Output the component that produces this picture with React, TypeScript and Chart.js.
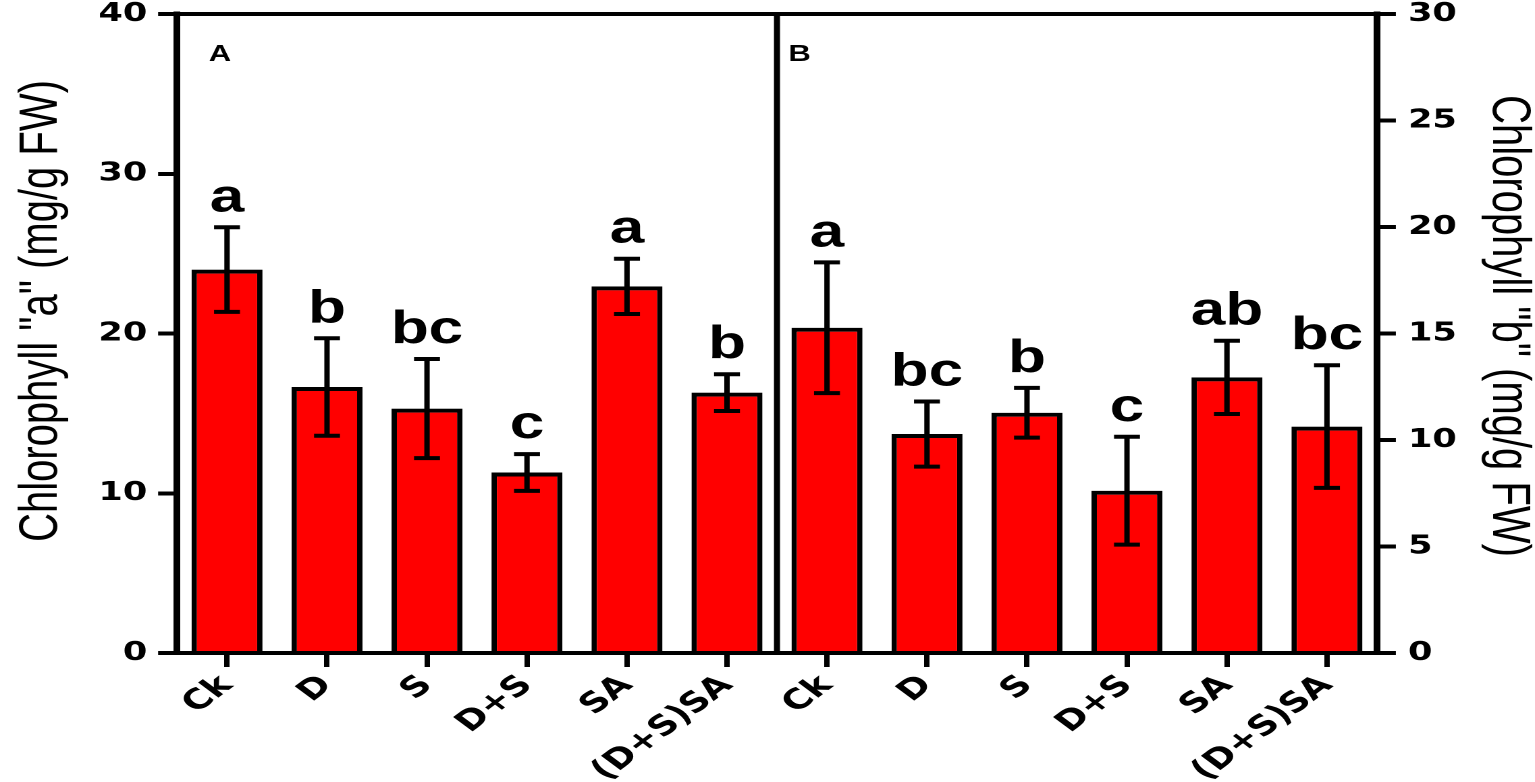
import React, { useEffect, useRef } from "react";
import { Chart, registerables } from "chart.js";

Chart.register(...registerables);

// the reference is stretched horizontally, so the chart is drawn narrow and scaled in x
const STRETCH = 1.35;
const WIDTH = 1535 / STRETCH;

const groups = ["Ck", "D", "S", "D+S", "SA", "(D+S)SA"];
const labels = [...groups, ...groups];

// panel A: chlorophyll a (left axis)
const chlA = [24.0, 16.65, 15.3, 11.3, 22.95, 16.3];
const chlAErr = [2.65, 3.05, 3.1, 1.15, 1.73, 1.15];
const lettersA = ["a", "b", "bc", "c", "a", "b"];

// panel B: chlorophyll b (right axis)
const chlB = [15.27, 10.28, 11.28, 7.62, 12.94, 10.63];
const chlBErr = [3.07, 1.53, 1.17, 2.53, 1.72, 2.88];
const lettersB = ["a", "bc", "b", "c", "ab", "bc"];

const FONT = "'Liberation Sans', Arial, sans-serif";
const TICK_FONT = "'DejaVu Sans', Verdana, sans-serif";

const annotate = {
    id: "annotate",
    afterDatasetsDraw(chart: any) {
        const { ctx, chartArea: a, scales } = chart;
        const x = scales.x;
        ctx.save();
        ctx.strokeStyle = "#000";
        ctx.fillStyle = "#000";

        // top frame line
        ctx.lineWidth = 4;
        ctx.beginPath();
        ctx.moveTo(a.left, a.top);
        ctx.lineTo(a.right, a.top);
        ctx.stroke();

        // divider between the two panels
        const mid = (x.getPixelForValue(5) + x.getPixelForValue(6)) / 2;
        ctx.lineWidth = 4.5;
        ctx.beginPath();
        ctx.moveTo(mid, a.top);
        ctx.lineTo(mid, a.bottom);
        ctx.stroke();

        const draw = (vals: number[], errs: number[], letters: string[], offset: number, yScale: any) => {
            vals.forEach((v, i) => {
                const cx = x.getPixelForValue(i + offset);
                const top = yScale.getPixelForValue(v + errs[i]);
                const bot = yScale.getPixelForValue(v - errs[i]);
                ctx.lineWidth = 4;
                ctx.beginPath();
                ctx.moveTo(cx, top);
                ctx.lineTo(cx, bot);
                ctx.moveTo(cx - 9.6, top);
                ctx.lineTo(cx + 9.6, top);
                ctx.moveTo(cx - 9.6, bot);
                ctx.lineTo(cx + 9.6, bot);
                ctx.stroke();
                ctx.font = `bold 46px ${FONT}`;
                ctx.textAlign = "center";
                ctx.textBaseline = "alphabetic";
                ctx.fillText(letters[i], cx, top - 16);
            });
        };
        draw(chlA, chlAErr, lettersA, 0, scales.y);
        draw(chlB, chlBErr, lettersB, 6, scales.y1);

        // panel labels
        ctx.font = `bold 23px ${FONT}`;
        ctx.textAlign = "left";
        ctx.fillText("A", a.left + 23.5, 61);
        ctx.fillText("B", mid + 8.5, 61);
        ctx.restore();
    },
    afterDraw(chart: any) {
        const { ctx } = chart;
        ctx.save();
        ctx.fillStyle = "#000";
        ctx.font = `40px ${FONT}`;
        ctx.textAlign = "center";
        ctx.textBaseline = "alphabetic";
        // left title, reads upward
        ctx.save();
        ctx.translate(42, 311);
        ctx.rotate(-Math.PI / 2);
        ctx.fillText('Chlorophyll "a" (mg/g FW)', 0, 0);
        ctx.restore();
        // right title, reads downward
        ctx.save();
        ctx.translate(1106, 326);
        ctx.rotate(Math.PI / 2);
        ctx.fillText('Chlorophyll "b" (mg/g FW)', 0, 0);
        ctx.restore();
        ctx.restore();
    },
};

export default function App() {
    const canvasRef = useRef<HTMLCanvasElement | null>(null);
    const chartRef = useRef<Chart | null>(null);

    useEffect(() => {
        document.body.style.margin = "0";
        const canvas = canvasRef.current;
        if (!canvas) return;
        if (chartRef.current) {
            chartRef.current.destroy();
            chartRef.current = null;
        }

        const tickFont = { family: TICK_FONT, size: 26, weight: "bold" as const };
        const axisGrid = {
            drawOnChartArea: false,
            tickLength: 14,
            color: "#000",
            lineWidth: 4,
        };
        // y axes: fixed width, no extra room for the end labels
        const fitY = (w: number) => (s: any) => {
            s.width = w;
            s.paddingTop = 0;
            s.paddingBottom = 0;
        };

        chartRef.current = new Chart(canvas, {
            type: "bar",
            data: {
                labels,
                datasets: [
                    {
                        label: 'Chlorophyll "a"',
                        data: [...chlA, ...groups.map(() => null)],
                        yAxisID: "y",
                        backgroundColor: "#ff0000",
                        borderColor: "#000",
                        borderWidth: 4,
                    },
                    {
                        label: 'Chlorophyll "b"',
                        data: [...groups.map(() => null), ...chlB],
                        yAxisID: "y1",
                        backgroundColor: "#ff0000",
                        borderColor: "#000",
                        borderWidth: 4,
                    },
                ] as any,
            },
            options: {
                animation: false,
                responsive: true,
                maintainAspectRatio: false,
                devicePixelRatio: 2,
                layout: { padding: { top: 14, left: 0, right: 0, bottom: 0 } },
                datasets: { bar: { grouped: false, barPercentage: 0.71, categoryPercentage: 1 } },
                plugins: {
                    legend: { display: false },
                    tooltip: { enabled: false },
                },
                scales: {
                    x: {
                        grid: { ...axisGrid, offset: false },
                        border: { color: "#000", width: 4 },
                        ticks: {
                            font: { ...tickFont, size: 28 },
                            color: "#000",
                            minRotation: 45,
                            maxRotation: 45,
                            autoSkip: false,
                            padding: 2,
                        },
                        afterFit: (s: any) => {
                            s.height = 129;
                        },
                    },
                    y: {
                        position: "left",
                        min: 0,
                        max: 40,
                        grid: axisGrid,
                        border: { color: "#000", width: 5 },
                        ticks: { stepSize: 10, font: tickFont, color: "#000", padding: 8 },
                        afterFit: fitY(177 / STRETCH),
                    },
                    y1: {
                        position: "right",
                        min: 0,
                        max: 30,
                        grid: axisGrid,
                        border: { color: "#000", width: 5 },
                        ticks: { stepSize: 5, font: tickFont, color: "#000", padding: 9 },
                        afterFit: fitY((1535 - 1377) / STRETCH),
                    },
                },
            } as any,
            plugins: [annotate],
        });

        return () => {
            if (chartRef.current) {
                chartRef.current.destroy();
                chartRef.current = null;
            }
        };
    }, []);

    return (
        <div style={{ width: "1535px", height: "782px", overflow: "hidden", background: "#fff" }}>
            <div
                style={{
                    position: "relative",
                    width: `${WIDTH}px`,
                    height: "782px",
                    transform: `scaleX(${STRETCH})`,
                    transformOrigin: "0 0",
                }}
            >
                <canvas ref={canvasRef} />
            </div>
        </div>
    );
}
